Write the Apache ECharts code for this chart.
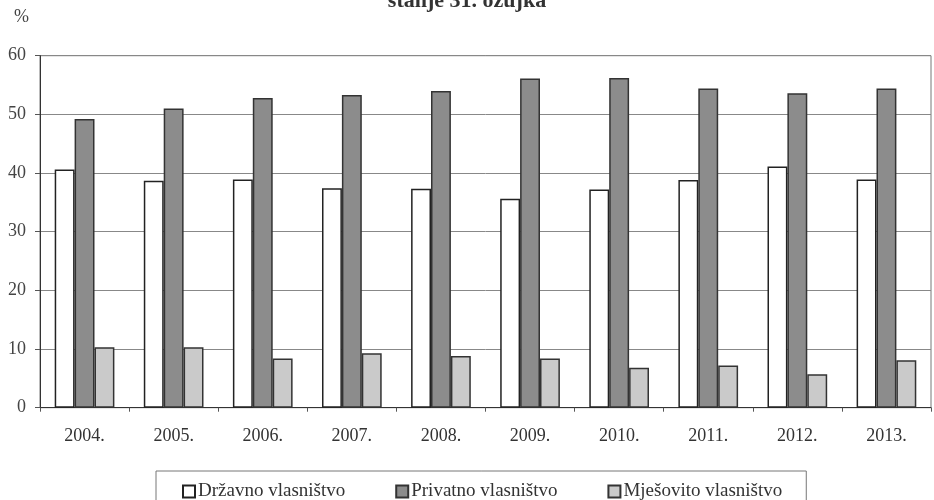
<!DOCTYPE html>
<html>
<head>
<meta charset="utf-8">
<script src="https://cdn.jsdelivr.net/npm/echarts@6/dist/echarts.min.js"></script>
<style>html,body{margin:0;padding:0;background:#fff;}#c{width:934px;height:500px;}</style>
</head>
<body>
<div id="c"></div>
<script>
const categories = ['2004.', '2005.', '2006.', '2007.', '2008.', '2009.', '2010.', '2011.', '2012.', '2013.'];
const drzavno = [40.6, 38.7, 38.9, 37.4, 37.3, 35.6, 37.2, 38.8, 41.1, 38.9];
const privatno = [49.2, 51.0, 52.8, 53.3, 54.0, 56.1, 56.2, 54.4, 53.6, 54.4];
const mjesovito = [10.3, 10.3, 8.4, 9.3, 8.8, 8.4, 6.8, 7.2, 5.7, 8.1];
const yTicks = [0, 10, 20, 30, 40, 50, 60];
const seriesNames = ['Državno vlasništvo', 'Privatno vlasništvo', 'Mješovito vlasništvo'];

const FONT = '"Liberation Serif", "DejaVu Serif", serif';
const chart = echarts.init(document.getElementById('c'));
chart.setOption({
  animation: false,
  backgroundColor: '#fff',
  graphic: [
    { type: 'text', left: 'center', top: -10, style: { text: 'stanje 31. ožujka', font: 'bold 22px ' + FONT, fill: '#333' } },
    { type: 'text', left: 14, top: 8, style: { text: '%', font: '18px ' + FONT, fill: '#444' } }
  ],
  grid: { left: 40, right: 3, top: 55.7, bottom: 92.3, show: true, borderColor: '#777', borderWidth: 1 },
  legend: {
    left: 156, top: 471,
    padding: [11, 24, 14, 26],
    borderColor: '#777', borderWidth: 1, backgroundColor: '#fff',
    icon: 'rect',
    itemWidth: 12, itemHeight: 12, itemGap: 50,
    textStyle: { fontFamily: FONT, fontSize: 19, color: '#333', padding: [0, 0, 0, -2] },
    data: seriesNames
  },
  xAxis: {
    type: 'category', data: categories,
    axisLine: { lineStyle: { color: '#333', width: 1 } },
    axisTick: { show: true, length: 4, lineStyle: { color: '#555' } },
    axisLabel: { fontFamily: FONT, fontSize: 18, color: '#333', margin: 20 },
    splitLine: { show: false }
  },
  yAxis: {
    type: 'value', min: yTicks[0], max: yTicks[yTicks.length - 1], interval: 10,
    axisLine: { show: true, lineStyle: { color: '#333', width: 1 } },
    axisTick: { show: true, length: 5, lineStyle: { color: '#555' } },
    axisLabel: { fontFamily: FONT, fontSize: 18, color: '#444', margin: 14 },
    splitLine: { show: true, lineStyle: { color: '#888', width: 1 } }
  },
  series: [
    { name: seriesNames[0], type: 'bar', data: drzavno, barGap: '0%', barCategoryGap: '33%',
      itemStyle: { color: '#ffffff', borderColor: '#222', borderWidth: 1.5 } },
    { name: seriesNames[1], type: 'bar', data: privatno,
      itemStyle: { color: '#8c8c8c', borderColor: '#333', borderWidth: 1.5 } },
    { name: seriesNames[2], type: 'bar', data: mjesovito,
      itemStyle: { color: '#cacaca', borderColor: '#333', borderWidth: 1.5 } }
  ]
});
</script>
</body>
</html>
